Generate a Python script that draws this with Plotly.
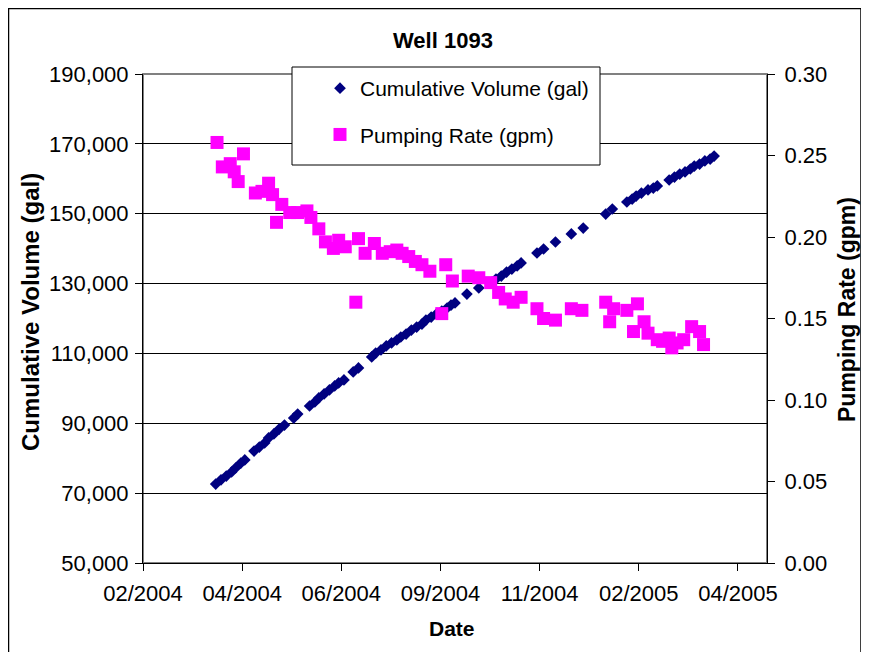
import plotly.graph_objects as go

# Cumulative Volume (gal)
cum_dates = [
    "2004-03-27", "2004-03-31", "2004-04-04", "2004-04-08", "2004-04-11", "2004-04-15", "2004-04-18",
    "2004-04-25", "2004-04-29", "2004-05-03", "2004-05-06", "2004-05-10", "2004-05-14", "2004-05-18",
    "2004-05-25", "2004-05-28",
    "2004-06-06", "2004-06-10", "2004-06-13", "2004-06-17", "2004-06-21", "2004-06-25", "2004-06-28", "2004-07-02",
    "2004-07-09", "2004-07-13",
    "2004-07-23", "2004-07-26", "2004-07-30", "2004-08-03", "2004-08-07", "2004-08-11", "2004-08-14", "2004-08-18",
    "2004-08-22", "2004-08-26", "2004-08-30", "2004-09-02", "2004-09-06", "2004-09-10", "2004-09-14", "2004-09-18",
    "2004-09-21", "2004-09-24",
    "2004-10-03", "2004-10-12",
    "2004-10-22", "2004-10-25", "2004-10-29", "2004-11-02", "2004-11-06", "2004-11-10", "2004-11-13",
    "2004-11-25", "2004-11-30", "2004-12-09", "2004-12-21", "2004-12-30",
    "2005-01-16", "2005-01-21",
    "2005-02-01", "2005-02-05", "2005-02-08", "2005-02-12", "2005-02-17", "2005-02-21", "2005-02-24",
    "2005-03-05", "2005-03-09", "2005-03-13", "2005-03-17", "2005-03-21", "2005-03-24", "2005-03-28",
    "2005-04-01", "2005-04-05", "2005-04-08",
]
cum_volume = [
    72600, 73800, 74900, 76050, 77200, 78600, 79500,
    82050, 83200, 84350, 85800, 86950, 88350, 89500,
    91500, 92650,
    94950, 96100, 97250, 98400, 99550, 100700, 101550, 102400,
    104700, 105850,
    109000, 110100, 111000, 112150, 113000, 113850, 114700, 115550,
    116700, 117550, 118400, 119550, 120400, 121300, 122150, 123000,
    123850, 124450,
    127000, 128750,
    130450, 131300, 132150, 133300, 134150, 135050, 135900,
    138750, 139900, 141900, 144200, 145900,
    149900, 151350,
    153350, 154200, 155050, 155900, 156800, 157350, 157950,
    159650, 160500, 161350, 161950, 162800, 163650, 164200,
    165100, 165650, 166500,
]

# Pumping Rate (gpm)
rate_dates = [
    "2004-03-28", "2004-04-01", "2004-04-07", "2004-04-10", "2004-04-13", "2004-04-17",
    "2004-04-26", "2004-05-01", "2004-05-06", "2004-05-09", "2004-05-12", "2004-05-16",
    "2004-05-22", "2004-05-28", "2004-06-04", "2004-06-07", "2004-06-13", "2004-06-18",
    "2004-06-24", "2004-06-28", "2004-07-03", "2004-07-11", "2004-07-13", "2004-07-18",
    "2004-07-25", "2004-07-31", "2004-08-06", "2004-08-11", "2004-08-15", "2004-08-20",
    "2004-08-25", "2004-08-30", "2004-09-05", "2004-09-14", "2004-09-17", "2004-09-22",
    "2004-10-04", "2004-10-12", "2004-10-21", "2004-10-27", "2004-11-01", "2004-11-07",
    "2004-11-13", "2004-11-25", "2004-11-30", "2004-12-09", "2004-12-21", "2004-12-29",
    "2005-01-16", "2005-01-19", "2005-01-22", "2005-02-01", "2005-02-06", "2005-02-09",
    "2005-02-14", "2005-02-17", "2005-02-24", "2005-02-28", "2005-03-05", "2005-03-07",
    "2005-03-11", "2005-03-16", "2005-03-22", "2005-03-28", "2005-03-31",
]
pump_rate = [
    0.258, 0.243, 0.245, 0.240, 0.234, 0.251,
    0.227, 0.228, 0.233, 0.226, 0.209, 0.220,
    0.215, 0.215, 0.216, 0.212, 0.205, 0.197,
    0.193, 0.198, 0.194, 0.160, 0.199, 0.190,
    0.196, 0.190, 0.191, 0.192, 0.190, 0.188,
    0.185, 0.183, 0.179, 0.153, 0.183, 0.173,
    0.176, 0.175, 0.172, 0.166, 0.162, 0.160,
    0.163, 0.156, 0.150, 0.149, 0.156, 0.155,
    0.160, 0.148, 0.156, 0.155, 0.142, 0.159,
    0.148, 0.141, 0.137, 0.136, 0.138, 0.132,
    0.135, 0.137, 0.145, 0.142, 0.134,
]

FONT = "Arial, 'Liberation Sans', sans-serif"
OFF = 8                      # page body margin
W, H = 862 - OFF, 652 - OFF  # figure size
# plot area in page pixels
L, R, T, B = 143, 767, 74, 563
pw, ph = R - L, B - T

def px(x):
    return (x - L) / pw

def py(y):
    return (B - y) / ph

fig = go.Figure()
fig.add_trace(go.Scatter(
    x=cum_dates, y=cum_volume, mode="markers", name="Cumulative Volume (gal)",
    marker=dict(symbol="diamond", size=9, color="#000080"),
    legendgroup="a", yaxis="y",
))
fig.add_trace(go.Scatter(
    x=rate_dates, y=pump_rate, mode="markers", name="Pumping Rate (gpm)",
    marker=dict(symbol="square", size=13, color="#FF00FF"),
    legendgroup="b", yaxis="y2",
))

fig.update_layout(
    width=W, height=H,
    margin=dict(l=L - OFF, r=W - (R - OFF), t=T - OFF, b=H - (B - OFF), pad=0),
    paper_bgcolor="white", plot_bgcolor="white",
    font=dict(family=FONT, size=21, color="black"),
    showlegend=True,
    legend=dict(
        x=px(320), y=py(68), xanchor="left", yanchor="top",
        bgcolor="rgba(0,0,0,0)", borderwidth=0,
        font=dict(family=FONT, size=21, color="black"),
        tracegroupgap=16,
    ),
    xaxis=dict(
        type="date",
        range=["2004-02-01", "2005-05-18"],
        tick0="2004-02-01", dtick=75 * 86400000,
        tickformat="%m/%Y",
        ticks="outside", ticklen=7, tickcolor="black",
        ticklabelstandoff=4,
        showline=True, linecolor="black", linewidth=1,
        showgrid=False, zeroline=False,
        tickfont=dict(family=FONT, size=22),
    ),
    yaxis=dict(
        range=[50000, 190000], tick0=50000, dtick=20000, tickformat=",",
        ticks="outside", ticklen=7, tickcolor="black",
        ticklabelstandoff=2,
        showline=True, linecolor="black", linewidth=1,
        showgrid=True, gridcolor="black", gridwidth=1,
        zeroline=False,
        tickfont=dict(family=FONT, size=22),
    ),
    yaxis2=dict(
        range=[0, 0.30], tick0=0, dtick=0.05, tickformat=".2f",
        overlaying="y", side="right",
        ticks="outside", ticklen=7, tickcolor="black",
        ticklabelstandoff=5,
        showline=True, linecolor="black", linewidth=1,
        showgrid=False, zeroline=False,
        tickfont=dict(family=FONT, size=22),
    ),
    shapes=[
        dict(type="rect", xref="paper", yref="paper", x0=0, x1=1, y0=0, y1=1,
             line=dict(color="#808080", width=2), fillcolor="rgba(0,0,0,0)", layer="below"),
        dict(type="rect", xref="paper", yref="paper",
             x0=px(292), x1=px(600), y0=py(165), y1=py(67),
             line=dict(color="black", width=1), fillcolor="white", layer="above"),
        dict(type="rect", xref="paper", yref="paper",
             x0=px(8.5), x1=px(861), y0=py(670), y1=py(8.5),
             line=dict(color="black", width=1.5), fillcolor="rgba(0,0,0,0)", layer="above"),
    ],
    annotations=[
        dict(text="<b>Well 1093</b>", xref="paper", yref="paper", x=px(443), y=py(41),
             xanchor="center", yanchor="middle", showarrow=False,
             font=dict(family=FONT, size=22)),
        dict(text="<b>Cumulative Volume (gal)</b>", xref="paper", yref="paper", x=px(30), y=py(312),
             xanchor="center", yanchor="middle", showarrow=False, textangle=-90,
             font=dict(family=FONT, size=24)),
        dict(text="<b>Pumping Rate (gpm)</b>", xref="paper", yref="paper", x=px(847), y=py(310),
             xanchor="center", yanchor="middle", showarrow=False, textangle=-90,
             font=dict(family=FONT, size=23)),
        dict(text="<b>Date</b>", xref="paper", yref="paper", x=px(452), y=py(628),
             xanchor="center", yanchor="middle", showarrow=False,
             font=dict(family=FONT, size=21)),
    ],
)

fig.write_html("out.html")
